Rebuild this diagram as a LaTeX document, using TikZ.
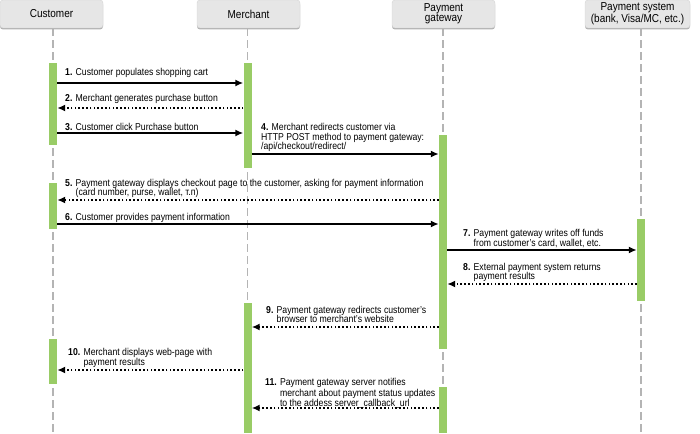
\documentclass[tikz,border=0pt]{standalone}
\usepackage{fontspec}
\setmainfont{Liberation Sans}[FakeStretch=0.87]
\usetikzlibrary{arrows.meta,backgrounds,shadows}

\definecolor{headfill}{HTML}{E6E6E6}
\definecolor{headline}{HTML}{D4D4D4}
\definecolor{barfill}{HTML}{99CC66}
\definecolor{lifegray}{HTML}{B4B4B4}

\tikzset{
  head/.style={draw=headline, fill=headfill, rounded corners=3pt,
    minimum width=103pt, minimum height=28pt, inner sep=0pt, align=center,
    font=\fontsize{11.5}{10}\selectfont,
    drop shadow={shadow xshift=0pt, shadow yshift=-1.5pt, fill=black!30, opacity=1}},
  actbar/.style={fill=barfill, minimum width=8pt, inner sep=0pt, anchor=north},
  lifeline/.style={draw=lifegray, line width=1.7pt, dash pattern=on 8pt off 4pt},
  msg/.style={line width=1.6pt, -{Latex[length=8pt,width=7pt]}},
  reply/.style={msg, dash pattern=on 1.6pt off 2.2pt},
  lbl/.style={anchor=north west, align=left, inner sep=0pt,
    font=\fontsize{10}{9.5}\selectfont}
}

\begin{document}
\begin{tikzpicture}[x=1pt,y=-1pt]
    \useasboundingbox (0,0) rectangle (700,433);

    % Draw the participants
    \node[head] (customer) at (51.5,14) {Customer};
    \node[head] (merchant) at (248.5,14) {Merchant};
    \node[head] (gateway) at (443.5,14) {Payment\\gateway};
    \node[head, minimum width=105pt] (paysys) at (637.5,14) {Payment system\\(bank, Visa/MC, etc.)};

    % Draw activation bars
    \node[actbar, minimum height=82pt] (cbar1) at (53,63) {};
    \node[actbar, minimum height=46pt] (cbar2) at (53,183) {};
    \node[actbar, minimum height=45pt] (cbar3) at (53,339) {};
    \node[actbar, minimum height=105pt] (mbar1) at (247.5,63) {};
    \node[actbar, minimum height=130pt] (mbar2) at (247.5,303) {};
    \node[actbar, minimum height=214pt] (gbar1) at (443,135) {};
    \node[actbar, minimum height=46pt] (gbar2) at (443,387) {};
    \node[actbar, minimum height=82pt] (pbar1) at (641,219) {};

    % Draw lifelines behind the bars
    \begin{scope}[on background layer]
        \draw[lifeline] (customer.south -| cbar1) -- (cbar1 |- 0,433);
        \draw[lifeline] (merchant.south -| mbar1) -- (mbar1 |- 0,433);
        \draw[lifeline] (gateway.south -| gbar1) -- (gbar1 |- 0,433);
        \draw[lifeline] (paysys.south -| pbar1) -- (pbar1 |- 0,433);
    \end{scope}

    % Message levels
    \foreach \n/\y in {1/83,2/108,3/133,4/154,5/200,6/224,7/250,8/284,9/327,10/370,11/408}
        \coordinate (lv\n) at (0,\y);

    % Draw messages
    \draw[msg] (cbar1.east |- lv1) -- (mbar1.west |- lv1);
    \draw[reply] (mbar1.west |- lv2) -- (cbar1.east |- lv2);
    \draw[msg] (cbar1.east |- lv3) -- (mbar1.west |- lv3);
    \draw[msg] (mbar1.east |- lv4) -- (gbar1.west |- lv4);
    \draw[reply] (gbar1.west |- lv5) -- (cbar2.east |- lv5);
    \draw[msg] (cbar2.east |- lv6) -- (gbar1.west |- lv6);
    \draw[msg] (gbar1.east |- lv7) -- (pbar1.west |- lv7);
    \draw[reply] (pbar1.west |- lv8) -- (gbar1.east |- lv8);
    \draw[reply] (gbar1.west |- lv9) -- (mbar2.east |- lv9);
    \draw[reply] (mbar2.west |- lv10) -- (cbar3.east |- lv10);
    \draw[reply] (gbar2.west |- lv11) -- (mbar2.east |- lv11);

    % Message labels
    \node[lbl] (t1) at (65,68.3) {\textbf{1.} Customer populates shopping cart};
    \node[lbl] (t2) at (65,94.3) {\textbf{2.} Merchant generates purchase button};
    \node[lbl] (t3) at (65,122.7) {\textbf{3.} Customer click Purchase button};
    \node[lbl] (t4) at (261,123.3) {\textbf{4.} Merchant redirects customer via\\HTTP POST method to payment gateway:\\/api/checkout/redirect/};
    \node[lbl] (t5) at (65,179) {\textbf{5.} Payment gateway displays checkout page to the customer, asking for payment information\\\phantom{\textbf{5.} }(card number, purse, wallet, т.п)};
    \node[lbl] (t6) at (65,213.3) {\textbf{6.} Customer provides payment information};
    \node[lbl] (t7) at (463,229.3) {\textbf{7.} Payment gateway writes off funds\\\phantom{\textbf{7.} }from customer's card, wallet, etc.};
    \node[lbl] (t8) at (463,262.7) {\textbf{8.} External payment system returns\\\phantom{\textbf{8.} }payment results};
    \node[lbl] (t9) at (266,305.7) {\textbf{9.} Payment gateway redirects customer's\\\phantom{\textbf{9.} }browser to merchant's website};
    \node[lbl] (t10) at (68,348.3) {\textbf{10.} Merchant displays web-page with\\\phantom{\textbf{10.} }payment results};
    \node[lbl, font=\fontsize{10}{7.5}\selectfont] (t11) at (265,378.5) {\textbf{11.} Payment gateway server notifies\\\phantom{\textbf{11.} }merchant about payment status updates\\\phantom{\textbf{11.} }to the addess server\_callback\_url};
\end{tikzpicture}
\end{document}
